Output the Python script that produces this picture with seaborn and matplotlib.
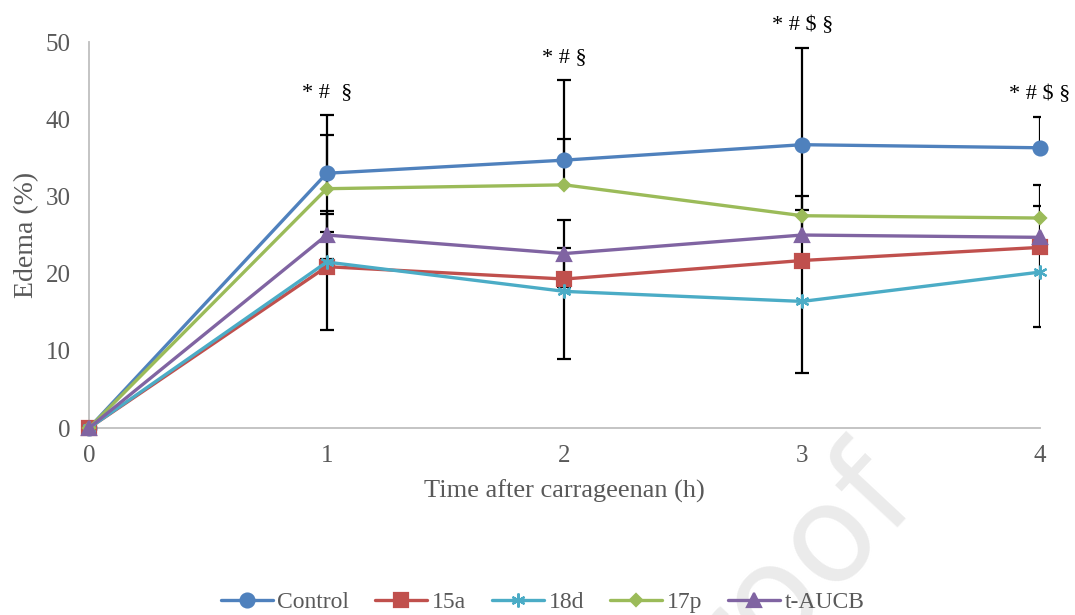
import numpy as np
import matplotlib
matplotlib.use("Agg")
import matplotlib.pyplot as plt
import seaborn as sns

# Time points (h) and group names
time_h = [0, 1, 2, 3, 4]
groups = ["Control", "15a", "18d", "17p", "t-AUCB"]

# Mean edema (%) per group
control = [0, 33.0, 34.7, 36.7, 36.3]
g15a = [0, 20.9, 19.3, 21.7, 23.4]
g18d = [0, 21.5, 17.7, 16.4, 20.2]
g17p = [0, 31.0, 31.5, 27.5, 27.2]
tAUCB = [0, 25.0, 22.6, 25.0, 24.7]

# Error bar lengths (upper / lower)
control_up = [0, 7.6, 10.4, 12.5, 4.0]
control_dn = [0, 7.6, 0, 12.5, 0]
g15a_up = [0, 6.8, 4.0, 0, 0]
g15a_dn = [0, 0, 0, 0, 0]
g18d_up = [0, 0, 1.6, 5.3, 3.2]
g18d_dn = [0, 8.8, 8.7, 9.3, 7.1]
g17p_up = [0, 7.0, 6.0, 2.5, 4.3]
g17p_dn = [0, 0, 0, 0, 0]
tAUCB_up = [0, 3.1, 4.3, 3.2, 4.0]
tAUCB_dn = [0, 3.1, 4.3, 3.2, 0]

# Significance marks above each time point (1-4 h)
sig_labels = ["* #  \u00a7", "* # \u00a7", "* # $ \u00a7", "* # $ \u00a7"]

y_ticks = [0, 10, 20, 30, 40, 50]
x_ticks = [0, 1, 2, 3, 4]

means = [control, g15a, g18d, g17p, tAUCB]
ups = [control_up, g15a_up, g18d_up, g17p_up, tAUCB_up]
dns = [control_dn, g15a_dn, g18d_dn, g17p_dn, tAUCB_dn]

colors = ["#4F81BD", "#C0504D", "#4BACC6", "#9BBB59", "#8064A2"]
markers = ["o", "s", (6, 2, 0), "D", "^"]
msizes = [10, 9.5, 10, 6.5, 10]

sns.set_style("white")
plt.rcParams["font.family"] = ["Liberation Serif", "DejaVu Serif"]
text_gray = "#595959"
axis_gray = "#BFBFBF"

fig = plt.figure(figsize=(10.75, 6.15), dpi=100)
ax = fig.add_axes([0.0828, 0.304, 0.8846, 0.6277])

# watermark
fig.text(0.858, 0.175, "Journal Pre-proof", fontsize=98, color="#EBEBEB",
         rotation=47, rotation_mode="anchor", ha="right", va="baseline",
         family="DejaVu Sans", zorder=0)

x = np.asarray(time_h, dtype=float)

# error bars, drawn beneath the series
for m, up, dn in zip(means, ups, dns):
    y = np.asarray(m, dtype=float)
    up = np.asarray(up, dtype=float)
    dn = np.asarray(dn, dtype=float)
    for err, keep_idx in ((up, 1), (dn, 0)):
        sel = err > 0
        if not sel.any():
            continue
        z = np.zeros(sel.sum())
        yerr = [z, err[sel]] if keep_idx == 1 else [err[sel], z]
        _, caps, _ = ax.errorbar(x[sel], y[sel], yerr=yerr, fmt="none",
                                 ecolor="black", elinewidth=1.6, capsize=5,
                                 capthick=1.6, zorder=1)
        caps[1 - keep_idx].set_visible(False)

handles = []
for name, m, c, mk, ms in zip(groups, means, colors, markers, msizes):
    sns.lineplot(x=time_h, y=m, ax=ax, color=c, marker=mk, markersize=ms,
                 markeredgecolor=c, markerfacecolor=c, markeredgewidth=1.6,
                 linewidth=2.4, label=name, clip_on=False, zorder=3,
                 legend=False)
    handles.append(ax.lines[-1])

# significance labels above the highest error bar at each time point
tops = np.asarray(control, dtype=float) + np.asarray(control_up, dtype=float)
for xi, lab in zip(time_h[1:], sig_labels):
    ax.text(xi, tops[xi] + 2.9, lab, ha="center", va="center",
            fontsize=16, color="black", clip_on=False)

ax.set_xlim(0, 4)
ax.set_ylim(0, 50)
ax.set_xticks(x_ticks)
ax.set_yticks(y_ticks)
ax.set_xticklabels([str(v) for v in x_ticks])
ax.set_yticklabels([str(v) for v in y_ticks])

for side in ("top", "right"):
    ax.spines[side].set_visible(False)
for side in ("left", "bottom"):
    ax.spines[side].set_color(axis_gray)
    ax.spines[side].set_linewidth(1.3)
    ax.spines[side].set_zorder(0.5)

ax.tick_params(axis="both", direction="in", length=5, width=1.3,
               color=axis_gray, labelcolor=text_gray, labelsize=18)
ax.tick_params(axis="y", pad=13)
ax.tick_params(axis="x", pad=12)
ax.grid(False)

ax.set_xlabel("Time after carrageenan (h)", fontsize=19, color=text_gray,
              labelpad=9)
ax.set_ylabel("Edema (%)", fontsize=20, color=text_gray, labelpad=5)

leg = fig.legend(handles, groups, loc="center", bbox_to_anchor=(0.505, 0.021),
                 ncol=5, frameon=False, handlelength=2.2, columnspacing=1.1,
                 handletextpad=0.2, fontsize=17, borderpad=0.2)
for t in leg.get_texts():
    t.set_color(text_gray)

fig.savefig("out.png", dpi=100)
